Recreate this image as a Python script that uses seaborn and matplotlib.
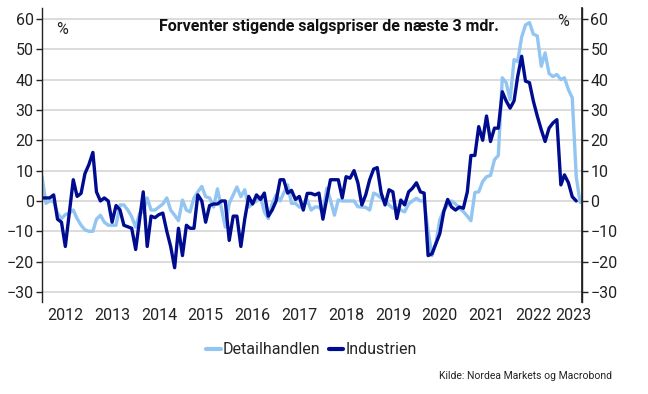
import numpy as np
import pandas as pd
import seaborn as sns
import matplotlib
matplotlib.use("Agg")
import matplotlib.pyplot as plt
import matplotlib.dates as mdates

# Monthly series, starting Jan 2012
detailhandlen = [
    8, -0.8, 0, -0.2, -4, -5.8, -4.5, -4, -3, -5.8, -8, -9.5,
    -10, -10, -6, -4.7, -7, -8, -8, -8, -1.3, -1.3, -3, -5.2,
    -8.6, -4, -3.6, 1, -3, -3, -2, -1, 1, -3, -4.7, -6.5,
    0.3, -3, -3.6, 1, 3, 4.8, 1.4, 1, -2, 4, -2.4, -8.6,
    -0.8, 2, 4.6, 1.4, 3.7, -2, -0.8, 0, 1.4, -3.6, -5.8, -1,
    2, 0, 2.6, 5.3, -0.8, -0.8, -2, -2, 0.3, -3, -2, -2,
    -3.6, 4.2, 0.3, -4.7, 0.3, 0, 0, 0, 0, -1.9, -2, -2.1,
    -3, 2.6, 2, 1, 0, -1.3, -2.4, -2.4, -3, -3.6, -1, 0,
    0.9, 0, 0, -10, -18, -14, -6.3, -3, -1.3, 0, -1, -2.4,
    -3.5, -5, -6.5, 2.8, 3, 6.4, 8, 8.4, 13.6, 15, 40.6, 39,
    33.4, 46.6, 46, 54, 58, 58.8, 55, 54.4, 44.4, 48.8, 42, 41,
    41.7, 40, 40.6, 36.7, 34, 8, -0.5,
]
industrien = [
    1, 1, 1, 2, -6, -7, -15, -4, 7, 1.5, 2.5, 9,
    12, 16, 3, 0, 1, 0, -7, -1.5, -3, -8, -8.5, -9,
    -16, -6, 3, -15, -5, -5.5, -4.5, -4, -10, -15, -22, -9,
    -18, -8, -9, -9, 2, 0, -7, -1.5, -1, -1, 0, 0,
    -13, -5, -5, -15, -6, 1.5, -1, 2, 0.5, 2.6, -5, -3,
    0, 7, 7, 2.6, 3.5, 0.5, 1.5, -3, 2.5, 2.5, 2, 2.6,
    -6, 1, 7, 7, 7, 1, 8, 7.5, 10, 6, -1.3, 2,
    7, 10.5, 11, 2.6, -1.3, 3.7, 3, -5.8, 0.3, -1.3, 3, 4.2,
    6, 3, 2.6, -18, -17.4, -14, -10.8, -3.6, 0.5, -2, -3, -2,
    -2.4, 3, 15, 15, 24.5, 20, 28, 19.6, 24, 24, 36, 33,
    30.6, 33, 41, 47.7, 39.5, 39, 33, 28, 23.5, 19.6, 24, 25.7,
    26.8, 5.3, 8.6, 6, 1.4, 0,
]
serier = ["Detailhandlen", "Industrien"]
farver = ["#92c5f1", "#000c8f"]
yticks = [-30, -20, -10, 0, 10, 20, 30, 40, 50, 60]
aar = list(range(2012, 2024))

df = pd.concat([
    pd.DataFrame({"dato": pd.date_range("2012-01-01", periods=len(detailhandlen), freq="MS"),
                  "værdi": detailhandlen, "serie": serier[0]}),
    pd.DataFrame({"dato": pd.date_range("2012-01-01", periods=len(industrien), freq="MS"),
                  "værdi": industrien, "serie": serier[1]}),
])

sns.set_theme(style="white")
plt.rcParams["font.family"] = ["Roboto", "DejaVu Sans"]

fig = plt.figure(figsize=(6.48, 3.94), dpi=100)
ax = fig.add_axes([42 / 648, 1 - 302 / 394, 540 / 648, 294 / 394])

sns.lineplot(data=df, x="dato", y="værdi", hue="serie", palette=farver,
             linewidth=2.4, ax=ax, legend=True)

ylim = (-33.3, 63.6)
ax.set_ylim(*ylim)
ax.set_xlim(pd.Timestamp("2012-01-01"), pd.Timestamp("2023-07-16"))
ax.set_yticks(yticks)
ax.set_xlabel("")
ax.set_ylabel("")
for y in yticks:
    ax.axhline(y, color="#d9d9d9", linewidth=1.3, zorder=0)

# year ticks at January, labels in the middle of each year
ax.set_xticks([pd.Timestamp(f"{a}-01-01") for a in aar])
ax.xaxis.set_major_formatter(plt.NullFormatter())
midt = [pd.Timestamp(f"{a}-07-01") for a in aar[:-1]] + [pd.Timestamp("2023-05-10")]
ax.set_xticks(midt, [str(a) for a in aar], minor=True)
ax.tick_params(axis="x", which="major", length=4, width=1, color="#222222", direction="out")
ax.tick_params(axis="x", which="minor", length=0, labelsize=11.5, labelcolor="#222222", pad=4)
ax.tick_params(axis="y", length=4, width=1, color="#222222", direction="out",
               labelsize=11.5, labelcolor="#222222", pad=2)

for s in ["top", "bottom"]:
    ax.spines[s].set_visible(False)
for s in ["left", "right"]:
    ax.spines[s].set_color("#222222")
    ax.spines[s].set_linewidth(1)

ax2 = ax.twinx()
ax2.set_ylim(*ylim)
ax2.set_yticks(yticks)
ax2.tick_params(axis="y", length=4, width=1, color="#222222", direction="out",
                labelsize=11.5, labelcolor="#222222", pad=2)
for s in ["top", "bottom", "left"]:
    ax2.spines[s].set_visible(False)
ax2.spines["right"].set_color("#222222")
ax2.grid(False)

sns.move_legend(ax, "center", bbox_to_anchor=(0.499, -0.163), ncol=2, frameon=False,
                title=None, fontsize=11.5, handlelength=0.9, handletextpad=0.15,
                columnspacing=0.5)
for line in ax.get_legend().get_lines():
    line.set_linewidth(3)

fig.text(329 / 648, 1 - 27 / 394, "Forventer stigende salgspriser de næste 3 mdr.",
         ha="center", va="center", fontsize=11.5, fontweight="bold", color="#111111")
fig.text(62 / 648, 1 - 29 / 394, "%", ha="center", va="center", fontsize=11.5, color="#222222")
fig.text(563 / 648, 1 - 22 / 394, "%", ha="center", va="center", fontsize=11.5, color="#222222")
fig.text(612 / 648, 1 - 376 / 394, "Kilde: Nordea Markets og Macrobond",
         ha="right", va="center", fontsize=7.5, color="#222222")

fig.savefig("out.png", dpi=100)
